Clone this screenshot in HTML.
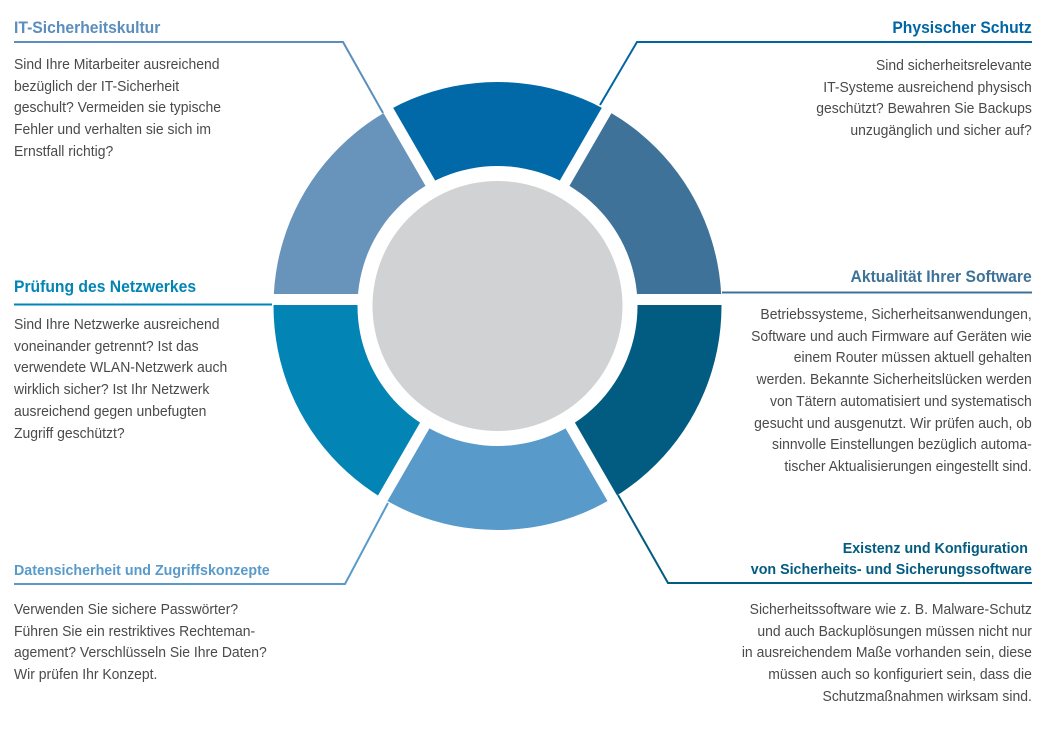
<!DOCTYPE html>
<html><head><meta charset="utf-8"><style>
body{margin:0;width:1059px;height:730px;background:#fff;position:relative;overflow:hidden;font-family:"Liberation Sans Narrow","Liberation Sans",sans-serif;}
.t{position:absolute;white-space:nowrap;}
.h{font-weight:bold;font-size:16.5px;line-height:21px;transform:scaleX(0.95);transform-origin:left top;}
.b{font-size:15px;line-height:21.7px;color:#4a4a4a;transform:scaleX(0.93);transform-origin:left top;}
.r{text-align:right;transform-origin:right top;}
</style></head><body>
<svg width="1059" height="730" style="position:absolute;left:0;top:0">
<defs><clipPath id="c"><circle cx="497.5" cy="306" r="224"/></clipPath></defs>
<g clip-path="url(#c)">
<polygon points="497.5,299.5 297.5,-46.9 697.5,-46.9" fill="#0269a8"/>
<polygon points="497.5,299.5 697.5,-46.9 897.5,299.5" fill="#3e7298"/>
<polygon points="497.5,299.5 897.5,299.5 697.5,645.9" fill="#025b80"/>
<polygon points="497.5,299.5 697.5,645.9 297.5,645.9" fill="#589bcb"/>
<polygon points="497.5,299.5 297.5,645.9 97.5,299.5" fill="#0284b5"/>
<polygon points="497.5,299.5 97.5,299.5 297.5,-46.9" fill="#6893bb"/>
</g>
<g stroke="#fff" stroke-width="11">
<line x1="297.5" y1="-46.9" x2="697.5" y2="645.9"/>
<line x1="697.5" y1="-46.9" x2="297.5" y2="645.9"/>
<line x1="200" y1="299.5" x2="800" y2="299.5"/>
</g>
<circle cx="497.5" cy="306" r="140" fill="#fff"/>
<circle cx="497.5" cy="306" r="125" fill="#d1d2d4"/>
<g fill="none" stroke-width="2">
<polyline points="14,42 343,42 383,113" stroke="#5b8dbd"/>
<polyline points="1032,42 637,42 600,105" stroke="#0066a3"/>
<polyline points="722,292.5 1032,292.5" stroke="#3e7298"/>
<polyline points="14,304.5 272,304.5" stroke="#0284b5"/>
<polyline points="14,584 345,584 388,503" stroke="#589bcb"/>
<polyline points="1032,583 668,583 618,495" stroke="#025b80"/>
</g>
</svg>
<div class="t h" style="left:14px;top:18px;color:#5b8dbd">IT-Sicherheitskultur</div>
<div class="t b" style="left:14px;top:54px">Sind Ihre Mitarbeiter ausreichend<br>bezüglich der IT-Sicherheit<br>geschult? Vermeiden sie typische<br>Fehler und verhalten sie sich im<br>Ernstfall richtig?</div>
<div class="t h r" style="right:27px;top:18px;color:#0066a3">Physischer Schutz</div>
<div class="t b r" style="right:27px;top:55px">Sind sicherheitsrelevante<br>IT-Systeme ausreichend physisch<br>geschützt? Bewahren Sie Backups<br>unzugänglich und sicher auf?</div>
<div class="t h r" style="right:27px;top:267px;color:#3e7298">Aktualität Ihrer Software</div>
<div class="t b r" style="right:27px;top:304px">Betriebssysteme, Sicherheitsanwendungen,<br>Software und auch Firmware auf Geräten wie<br>einem Router müssen aktuell gehalten<br>werden. Bekannte Sicherheitslücken werden<br>von Tätern automatisiert und systematisch<br>gesucht und ausgenutzt. Wir prüfen auch, ob<br>sinnvolle Einstellungen bezüglich automa-<br>tischer Aktualisierungen eingestellt sind.</div>
<div class="t h" style="left:14px;top:277px;color:#0284b5">Prüfung des Netzwerkes</div>
<div class="t b" style="left:14px;top:314px">Sind Ihre Netzwerke ausreichend<br>voneinander getrennt? Ist das<br>verwendete WLAN-Netzwerk auch<br>wirklich sicher? Ist Ihr Netzwerk<br>ausreichend gegen unbefugten<br>Zugriff geschützt?</div>
<div class="t h" style="left:14px;top:560px;color:#589bcb;font-size:15px">Datensicherheit und Zugriffskonzepte</div>
<div class="t b" style="left:14px;top:599px">Verwenden Sie sichere Passwörter?<br>Führen Sie ein restriktives Rechteman-<br>agement? Verschlüsseln Sie Ihre Daten?<br>Wir prüfen Ihr Konzept.</div>
<div class="t h r" style="right:27px;top:538px;color:#025b80;font-size:15px">Existenz und Konfiguration&nbsp;<br>von Sicherheits- und Sicherungssoftware</div>
<div class="t b r" style="right:27px;top:599px">Sicherheitssoftware wie z. B. Malware-Schutz<br>und auch Backuplösungen müssen nicht nur<br>in ausreichendem Maße vorhanden sein, diese<br>müssen auch so konfiguriert sein, dass die<br>Schutzmaßnahmen wirksam sind.</div>
</body></html>
